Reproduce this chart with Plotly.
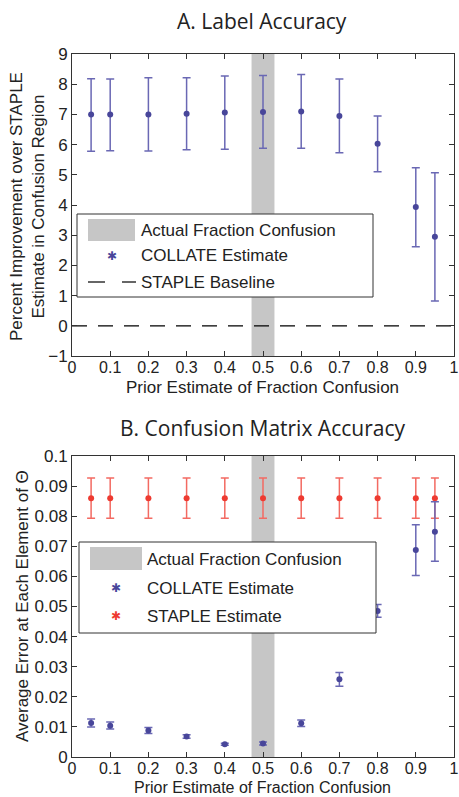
import plotly.graph_objects as go

# Prior estimate of the fraction of confusion (x positions shared by both panels)
prior = [0.05, 0.1, 0.2, 0.3, 0.4, 0.5, 0.6, 0.7, 0.8, 0.9, 0.95]

# Panel A: percent improvement of COLLATE over STAPLE
collate_impr = [7.0, 7.0, 7.0, 7.02, 7.06, 7.08, 7.1, 6.95, 6.03, 3.93, 2.95]
collate_impr_hi = [8.18, 8.17, 8.21, 8.21, 8.27, 8.29, 8.32, 8.17, 6.95, 5.23, 5.07]
collate_impr_lo = [5.78, 5.80, 5.79, 5.83, 5.85, 5.88, 5.88, 5.73, 5.10, 2.62, 0.82]
baseline_x = [0, 1]
baseline_y = [0, 0]

# Panel B: average error at each element of the confusion matrix
collate_err = [0.0113, 0.0104, 0.0088, 0.0068, 0.0042, 0.0045, 0.0112, 0.0258, 0.0485, 0.0688, 0.0748]
collate_err_hi = [0.0126, 0.0116, 0.0098, 0.0074, 0.0046, 0.0050, 0.0123, 0.0281, 0.0507, 0.0772, 0.0848]
collate_err_lo = [0.0100, 0.0093, 0.0078, 0.0062, 0.0039, 0.0040, 0.0101, 0.0235, 0.0464, 0.0603, 0.0650]
staple_err = [0.086] * 11
staple_err_hi = [0.0927] * 11
staple_err_lo = [0.0793] * 11

# Actual fraction of confusion band
band = [0.47, 0.53]

# Tick labels
x_ticks = [i / 10 for i in range(11)]
x_ticktext = ["0", "0.1", "0.2", "0.3", "0.4", "0.5", "0.6", "0.7", "0.8", "0.9", "1"]
ya_ticks = list(range(-1, 10))
yb_ticks = [i / 100 for i in range(11)]
yb_ticktext = ["0", "0.01", "0.02", "0.03", "0.04", "0.05", "0.06", "0.07", "0.08", "0.09", "0.1"]

BLUE_PT = "#48469a"
BLUE_BAR = "#6a68b4"
RED_PT = "#ee3a30"
RED_BAR = "#f36a62"
GRAY = "#c6c6c6"
TXT = "#222222"
FONT = "Liberation Sans, Arial, sans-serif"
FS = 17

W, H = 459, 797


def px(x):
    return x / W


def py(y):
    return 1 - y / H


def errs(v, hi, lo):
    return [h - a for a, h in zip(v, hi)], [a - l for a, l in zip(v, lo)]


fig = go.Figure()

up, dn = errs(collate_impr, collate_impr_hi, collate_impr_lo)
fig.add_trace(go.Scatter(
    x=baseline_x, y=baseline_y, mode="lines", xaxis="x", yaxis="y",
    line=dict(color="black", width=1.2, dash="15px,11px"), showlegend=False))
fig.add_trace(go.Scatter(
    x=prior, y=collate_impr, mode="markers", xaxis="x", yaxis="y",
    marker=dict(symbol="circle", size=6, color=BLUE_PT),
    error_y=dict(type="data", symmetric=False, array=up, arrayminus=dn,
                 color=BLUE_BAR, thickness=1.5, width=4),
    showlegend=False))

up, dn = errs(staple_err, staple_err_hi, staple_err_lo)
fig.add_trace(go.Scatter(
    x=prior, y=staple_err, mode="markers", xaxis="x2", yaxis="y2",
    marker=dict(symbol="circle", size=6, color=RED_PT),
    error_y=dict(type="data", symmetric=False, array=up, arrayminus=dn,
                 color=RED_BAR, thickness=1.5, width=4),
    showlegend=False))
up, dn = errs(collate_err, collate_err_hi, collate_err_lo)
fig.add_trace(go.Scatter(
    x=prior, y=collate_err, mode="markers", xaxis="x2", yaxis="y2",
    marker=dict(symbol="circle", size=6, color=BLUE_PT),
    error_y=dict(type="data", symmetric=False, array=up, arrayminus=dn,
                 color=BLUE_BAR, thickness=1.5, width=4),
    showlegend=False))

axis_common = dict(
    showgrid=False, zeroline=False, showline=True, linecolor="#333333",
    linewidth=1, mirror="ticks", ticks="inside", ticklen=5,
    tickcolor="#333333", tickfont=dict(family=FONT, size=FS, color=TXT),
    automargin=False,
)
x_common = dict(axis_common, ticklabelstandoff=-3,
                tickfont=dict(family=FONT, size=16, color=TXT))

xdom = [px(72), px(454)]
fig.update_layout(
    width=W, height=H, margin=dict(l=0, r=0, t=0, b=0),
    paper_bgcolor="white", plot_bgcolor="white",
    xaxis=dict(domain=xdom, range=[0, 1], tickvals=x_ticks, ticktext=x_ticktext,
               anchor="y", **x_common),
    yaxis=dict(domain=[py(356), py(54)], range=[-1, 9], tickvals=ya_ticks,
               anchor="x", **axis_common),
    xaxis2=dict(domain=xdom, range=[0, 1], tickvals=x_ticks, ticktext=x_ticktext,
                anchor="y2", **x_common),
    yaxis2=dict(domain=[py(757), py(456)], range=[0, 0.1], tickvals=yb_ticks,
                ticktext=yb_ticktext, anchor="x2", **axis_common),
)

shapes = []
annotations = []
# Shaded band of the actual fraction of confusion, in both panels
for xr, yr in (("x", "y domain"), ("x2", "y2 domain")):
    shapes.append(dict(type="rect", xref=xr, yref=yr, x0=band[0], x1=band[1],
                       y0=0, y1=1, fillcolor=GRAY, line=dict(width=0), layer="below"))


def text_at(text, x, y, size=FS, family=FONT, angle=0, xanchor="center"):
    annotations.append(dict(text=text, x=px(x), y=py(y), xref="paper", yref="paper",
                            xanchor=xanchor, yanchor="middle", showarrow=False,
                            textangle=angle, borderpad=0,
                            font=dict(family=family, size=size, color=TXT)))


# Panel titles
text_at("A. Label Accuracy", 262, 21, size=21, family="Open Sans, sans-serif")
text_at("B. Confusion Matrix Accuracy", 262, 428, size=21, family="Open Sans, sans-serif")

# Axis titles
text_at("Prior Estimate of Fraction Confusion", 262, 387)
text_at("Prior Estimate of Fraction Confusion", 262, 787, size=16)
text_at("Percent Improvement over STAPLE<br>Estimate in Confusion Region", 28, 207, angle=-90)
text_at("Average Error at Each Element of Θ", 22, 606, angle=-90)


def legend_box(x0, y0, x1, y1):
    shapes.append(dict(type="rect", xref="paper", yref="paper", x0=px(x0), x1=px(x1),
                       y0=py(y1), y1=py(y0), fillcolor="white",
                       line=dict(color="#333333", width=1)))


def legend_star(color, x, y):
    annotations.append(dict(text="✱", x=px(x), y=py(y), xref="paper", yref="paper",
                            xanchor="center", yanchor="middle", showarrow=False,
                            font=dict(family="DejaVu Sans", size=12, color=color)))


# Legend of panel A
legend_box(77, 214, 373, 297)
shapes.append(dict(type="rect", xref="paper", yref="paper", x0=px(88), x1=px(135),
                   y0=py(241), y1=py(219), fillcolor=GRAY, line=dict(width=0)))
text_at("Actual Fraction Confusion", 140, 230, xanchor="left")
legend_star(BLUE_PT, 112, 256)
text_at("COLLATE Estimate", 140, 256, xanchor="left")
for a, b in ((88, 105), (122, 136)):
    shapes.append(dict(type="line", xref="paper", yref="paper", x0=px(a), x1=px(b),
                       y0=py(282), y1=py(282), line=dict(color="black", width=1.2)))
text_at("STAPLE Baseline", 140, 282, xanchor="left")

# Legend of panel B
legend_box(79, 542, 376, 633)
shapes.append(dict(type="rect", xref="paper", yref="paper", x0=px(90), x1=px(142),
                   y0=py(570), y1=py(547), fillcolor=GRAY, line=dict(width=0)))
text_at("Actual Fraction Confusion", 146, 559, xanchor="left")
legend_star(BLUE_PT, 116, 588)
text_at("COLLATE Estimate", 146, 588, xanchor="left")
legend_star(RED_PT, 116, 616)
text_at("STAPLE Estimate", 146, 616, xanchor="left")

fig.update_layout(shapes=shapes, annotations=annotations)

fig.write_html("out.html")
